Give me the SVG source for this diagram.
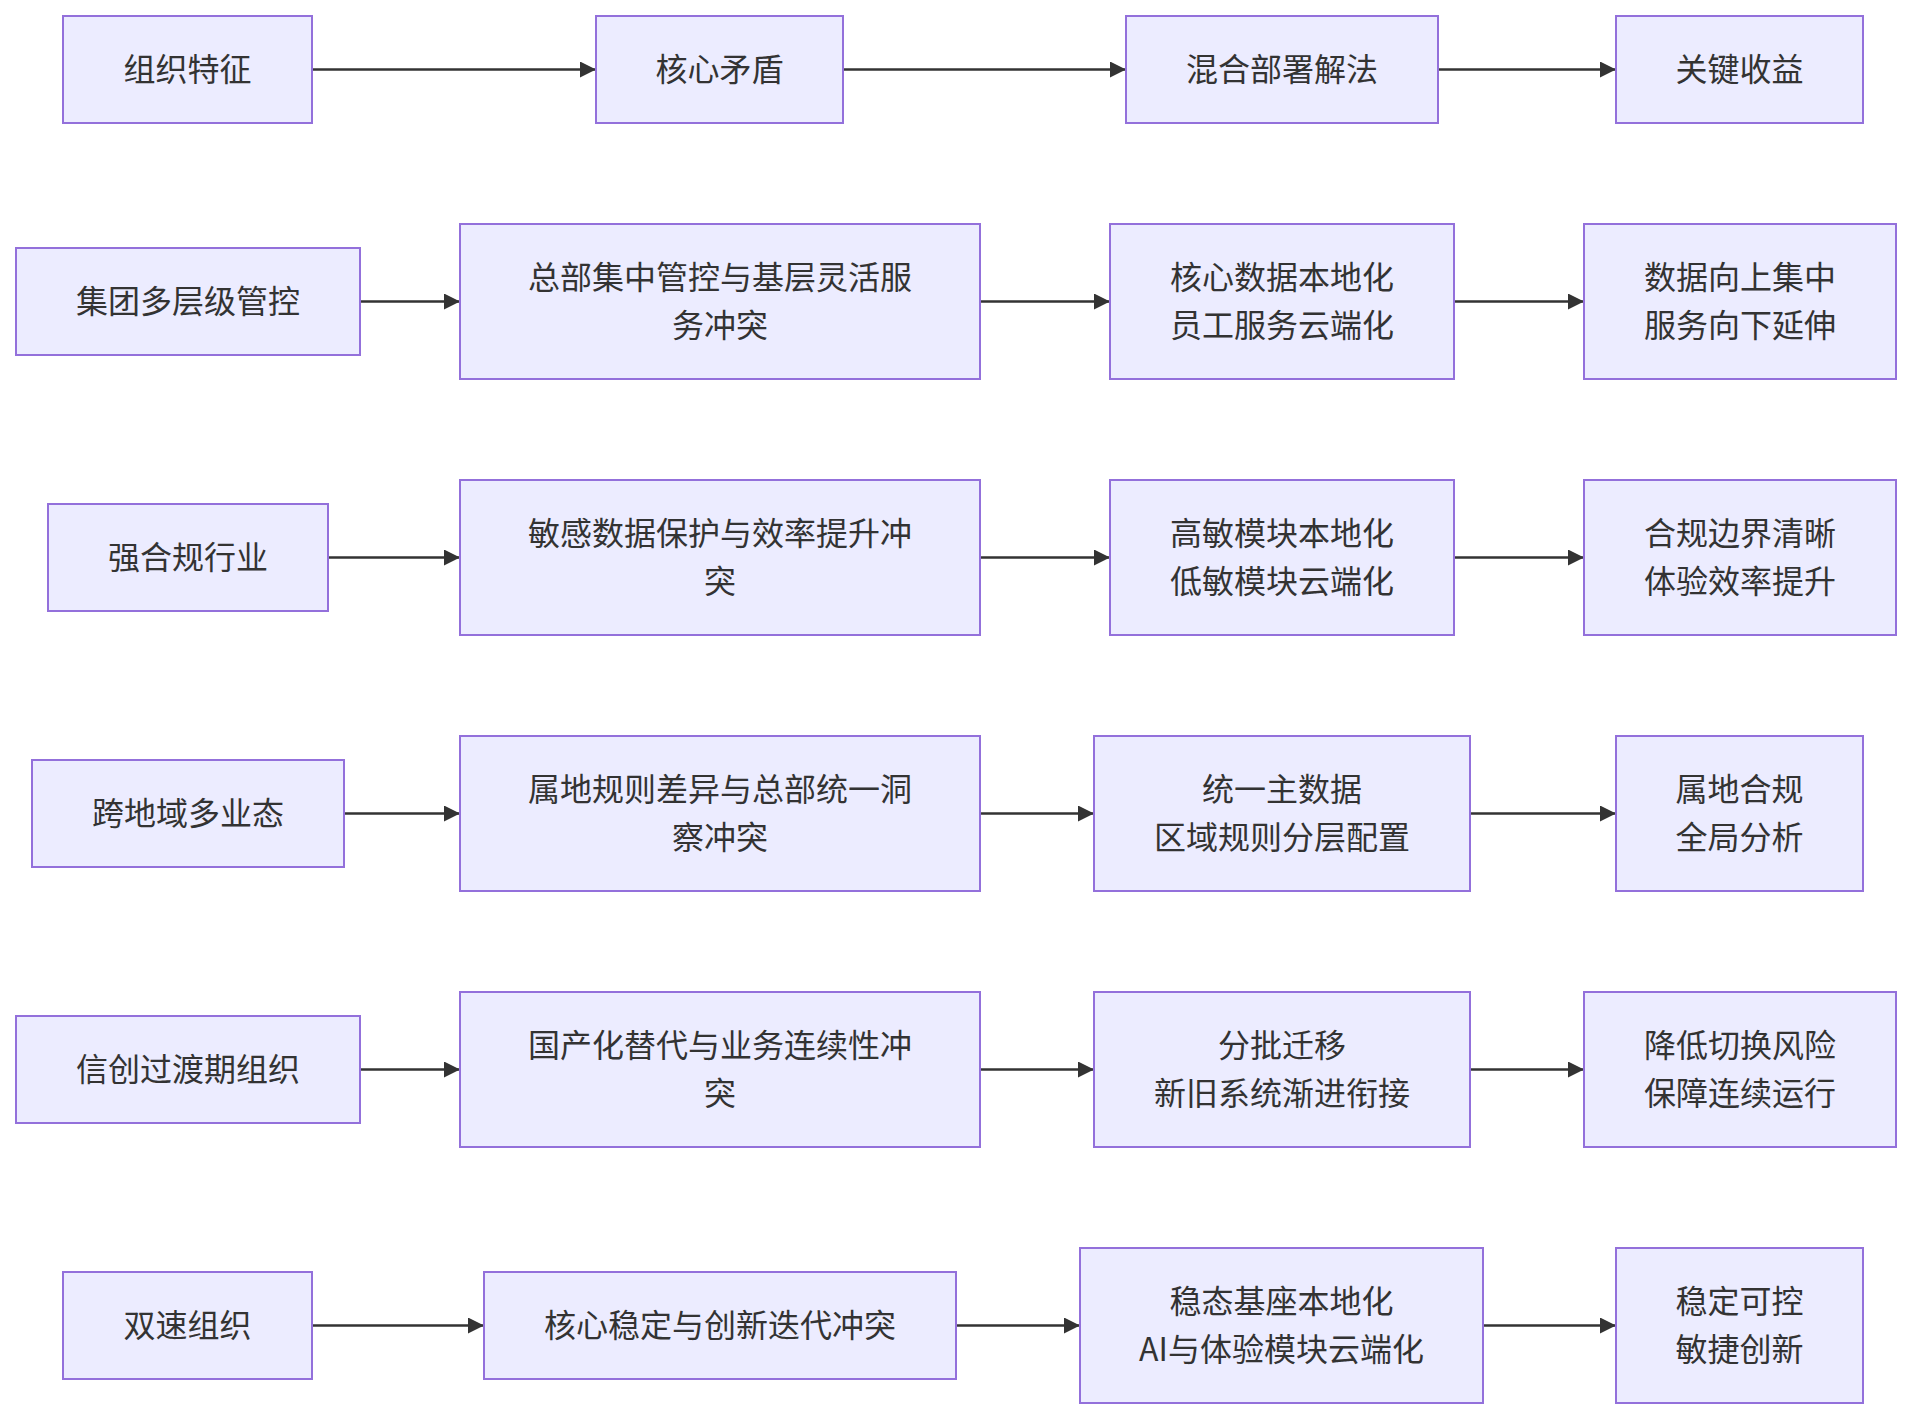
<svg xmlns="http://www.w3.org/2000/svg" width="1911" height="1420" viewBox="0 0 1911 1420">
<style>
.n rect{fill:#ECECFF;stroke:#9370DB;stroke-width:2}
.n text{font-family:"Noto Sans CJK SC","Noto Sans",sans-serif;font-size:32px;fill:#333;text-anchor:middle;dominant-baseline:central}
.e line{stroke:#333;stroke-width:2.5;fill:none}
</style>
<defs>
<marker id="ah" markerUnits="userSpaceOnUse" markerWidth="16" markerHeight="16" viewBox="0 0 16 16" refX="16" refY="8" orient="auto">
<path d="M0,0 L16,8 L0,16 z" fill="#333"/>
</marker>
</defs>
<rect width="1911" height="1420" fill="#fff"/>
<g id="edges" class="e">
<line x1="312" y1="69.5" x2="596" y2="69.5" marker-end="url(#ah)"/>
<line x1="843" y1="69.5" x2="1126" y2="69.5" marker-end="url(#ah)"/>
<line x1="1438" y1="69.5" x2="1616" y2="69.5" marker-end="url(#ah)"/>
<line x1="360" y1="301.5" x2="460" y2="301.5" marker-end="url(#ah)"/>
<line x1="980" y1="301.5" x2="1110" y2="301.5" marker-end="url(#ah)"/>
<line x1="1454" y1="301.5" x2="1584" y2="301.5" marker-end="url(#ah)"/>
<line x1="328" y1="557.5" x2="460" y2="557.5" marker-end="url(#ah)"/>
<line x1="980" y1="557.5" x2="1110" y2="557.5" marker-end="url(#ah)"/>
<line x1="1454" y1="557.5" x2="1584" y2="557.5" marker-end="url(#ah)"/>
<line x1="344" y1="813.5" x2="460" y2="813.5" marker-end="url(#ah)"/>
<line x1="980" y1="813.5" x2="1094" y2="813.5" marker-end="url(#ah)"/>
<line x1="1470" y1="813.5" x2="1616" y2="813.5" marker-end="url(#ah)"/>
<line x1="360" y1="1069.5" x2="460" y2="1069.5" marker-end="url(#ah)"/>
<line x1="980" y1="1069.5" x2="1094" y2="1069.5" marker-end="url(#ah)"/>
<line x1="1470" y1="1069.5" x2="1584" y2="1069.5" marker-end="url(#ah)"/>
<line x1="312" y1="1325.5" x2="484" y2="1325.5" marker-end="url(#ah)"/>
<line x1="956" y1="1325.5" x2="1080" y2="1325.5" marker-end="url(#ah)"/>
<line x1="1483" y1="1325.5" x2="1616" y2="1325.5" marker-end="url(#ah)"/>
</g>
<g id="h1" class="n"><rect x="63" y="16" width="249" height="107"/><text x="187.5" y="67">组织特征</text></g>
<g id="h2" class="n"><rect x="596" y="16" width="247" height="107"/><text x="719.5" y="67">核心矛盾</text></g>
<g id="h3" class="n"><rect x="1126" y="16" width="312" height="107"/><text x="1282" y="67">混合部署解法</text></g>
<g id="h4" class="n"><rect x="1616" y="16" width="247" height="107"/><text x="1739.5" y="67">关键收益</text></g>

<g id="a1" class="n"><rect x="16" y="248" width="344" height="107"/><text x="188" y="299">集团多层级管控</text></g>
<g id="a2" class="n"><rect x="460" y="224" width="520" height="155"/><text x="720" y="275">总部集中管控与基层灵活服</text><text x="720" y="323">务冲突</text></g>
<g id="a3" class="n"><rect x="1110" y="224" width="344" height="155"/><text x="1282" y="275">核心数据本地化</text><text x="1282" y="323">员工服务云端化</text></g>
<g id="a4" class="n"><rect x="1584" y="224" width="312" height="155"/><text x="1740" y="275">数据向上集中</text><text x="1740" y="323">服务向下延伸</text></g>

<g id="b1" class="n"><rect x="48" y="504" width="280" height="107"/><text x="188" y="555">强合规行业</text></g>
<g id="b2" class="n"><rect x="460" y="480" width="520" height="155"/><text x="720" y="531">敏感数据保护与效率提升冲</text><text x="720" y="579">突</text></g>
<g id="b3" class="n"><rect x="1110" y="480" width="344" height="155"/><text x="1282" y="531">高敏模块本地化</text><text x="1282" y="579">低敏模块云端化</text></g>
<g id="b4" class="n"><rect x="1584" y="480" width="312" height="155"/><text x="1740" y="531">合规边界清晰</text><text x="1740" y="579">体验效率提升</text></g>

<g id="c1" class="n"><rect x="32" y="760" width="312" height="107"/><text x="188" y="811">跨地域多业态</text></g>
<g id="c2" class="n"><rect x="460" y="736" width="520" height="155"/><text x="720" y="787">属地规则差异与总部统一洞</text><text x="720" y="835">察冲突</text></g>
<g id="c3" class="n"><rect x="1094" y="736" width="376" height="155"/><text x="1282" y="787">统一主数据</text><text x="1282" y="835">区域规则分层配置</text></g>
<g id="c4" class="n"><rect x="1616" y="736" width="247" height="155"/><text x="1739.5" y="787">属地合规</text><text x="1739.5" y="835">全局分析</text></g>

<g id="d1" class="n"><rect x="16" y="1016" width="344" height="107"/><text x="188" y="1067">信创过渡期组织</text></g>
<g id="d2" class="n"><rect x="460" y="992" width="520" height="155"/><text x="720" y="1043">国产化替代与业务连续性冲</text><text x="720" y="1091">突</text></g>
<g id="d3" class="n"><rect x="1094" y="992" width="376" height="155"/><text x="1282" y="1043">分批迁移</text><text x="1282" y="1091">新旧系统渐进衔接</text></g>
<g id="d4" class="n"><rect x="1584" y="992" width="312" height="155"/><text x="1740" y="1043">降低切换风险</text><text x="1740" y="1091">保障连续运行</text></g>

<g id="e1" class="n"><rect x="63" y="1272" width="249" height="107"/><text x="187.5" y="1323">双速组织</text></g>
<g id="e2" class="n"><rect x="484" y="1272" width="472" height="107"/><text x="720" y="1323">核心稳定与创新迭代冲突</text></g>
<g id="e3" class="n"><rect x="1080" y="1248" width="403" height="155"/><text x="1281.5" y="1299">稳态基座本地化</text><text x="1281.5" y="1347">AI与体验模块云端化</text></g>
<g id="e4" class="n"><rect x="1616" y="1248" width="247" height="155"/><text x="1739.5" y="1299">稳定可控</text><text x="1739.5" y="1347">敏捷创新</text></g>
</svg>
